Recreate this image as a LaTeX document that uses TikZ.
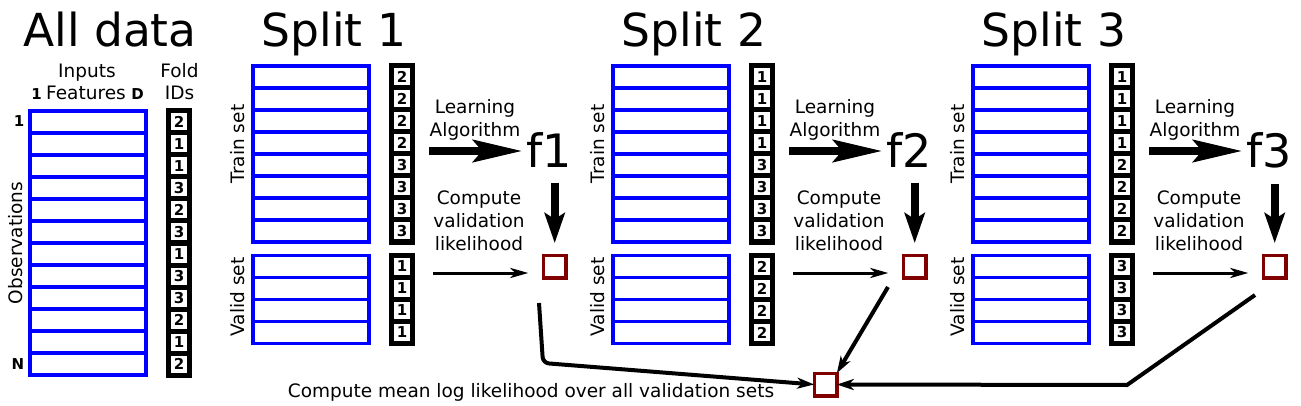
\documentclass[tikz,border=0pt]{standalone}
\usepackage{fontspec}
\setmainfont{DejaVu Sans}
\usetikzlibrary{arrows.meta}
\definecolor{sqred}{HTML}{800000}
\newcommand{\fsz}[1]{\fontsize{#1}{#1}\selectfont}
\tikzset{
  brow/.style={draw=blue, line width=3.3pt, minimum width=116pt, minimum height=22pt, inner sep=0pt, outer sep=0pt},
  fcell/.style={draw=black, fill=white, line width=5pt, minimum width=21pt, minimum height=22pt, inner sep=0pt, outer sep=0pt, font=\bfseries\fsz{15}},
  title/.style={anchor=base, inner sep=0pt, font=\fsz{45.5}},
  lbl/.style={inner sep=0pt, font=\fsz{18.5}},
  blbl/.style={anchor=base, inner sep=0pt, font=\bfseries\fsz{15}},
  multi/.style={inner sep=0pt, align=center, font=\fontsize{18.5}{23}\selectfont},
  fnode/.style={anchor=base, inner sep=0pt, outer sep=0pt, font=\fsz{46}},
  redsq/.style={draw=sqred, line width=3.3pt, minimum width=22.7pt, minimum height=22.7pt, inner sep=0pt, outer sep=0pt},
  bigarrow/.style={line width=8pt, -{Stealth[length=49pt, width=22pt, inset=9pt]}},
  downarrow/.style={line width=8pt, -{Stealth[length=30pt, width=20pt, inset=6pt]}},
  thinarrow/.style={line width=3pt, -{Stealth[length=18pt, width=10pt, inset=5pt]}},
  link/.style={line width=4pt, -{Stealth[length=17pt, width=11pt, inset=5pt]}},
}
\begin{document}
\begin{tikzpicture}[x=1pt, y=-1pt]
\fill[white] (0,0) rectangle (1301,406);
\useasboundingbox (0,0) rectangle (1301,406);

% ---------------- All data ----------------
\node[title] (alltitle) at (110,47) {All data};
\node[lbl, anchor=base] (inputs) at (87,78) {Inputs};
\node[lbl, anchor=base] (features) at (86,100) {Features};
\node[blbl] (featone) at (36.5,100) {1};
\node[blbl] (featD) at (137.5,100) {D};
\node[lbl, anchor=base] (fold) at (179.5,78) {Fold};
\node[lbl, anchor=base] (ids) at (179.5,100) {IDs};
\node[blbl] (obsone) at (19,127) {1};
\node[blbl] (obsN) at (18,369) {N};
\node[lbl, rotate=90] (obs) at (16,243) {Observations};
\foreach \v [count=\k] in {2,1,1,3,2,3,1,3,3,2,1,2} {
  \node[brow] (ar\k) at (88,{122+22*(\k-1)}) {};
  \node[fcell] (af\k) at (179,{122+22*(\k-1)}) {\v};
}

% ---------------- Splits ----------------
\foreach \s/\tr/\va in {1/{2,2,2,2,3,3,3,3}/1, 2/{1,1,1,1,3,3,3,3}/2, 3/{1,1,1,1,2,2,2,2}/3} {
  \pgfmathsetmacro{\dx}{360*(\s-1)}
  \node[title] (st\s) at (334+\dx,47) {Split \s};
  \node[lbl, rotate=90] (trl\s) at (237.5+\dx,144) {Train set};
  \node[lbl, rotate=90] (val\s) at (237.5+\dx,297) {Valid set};
  \foreach \v [count=\k] in \tr {
    \node[brow] (s\s tr\k) at (311+\dx,{77+22*(\k-1)}) {};
    \node[fcell] (s\s tf\k) at (402+\dx,{77+22*(\k-1)}) {\v};
  }
  \foreach \k in {1,2,3,4} {
    \node[brow] (s\s vr\k) at (311+\dx,{266.5+22*(\k-1)}) {};
    \node[fcell] (s\s vf\k) at (402+\dx,{266.5+22*(\k-1)}) {\va};
  }
  \node[multi] (la\s) at (475+\dx,120) {Learning\\Algorithm};
  \node[multi] (cv\s) at (479+\dx,221) {Compute\\validation\\likelihood};
  \node[fnode] (f\s) at (549+\dx,168) {f\s};
  \node[redsq] (sq\s) at (554.7+\dx,266.5) {};
  \coordinate (from\s) at (429+\dx,151);
  \coordinate (vfrom\s) at (433+\dx,273);
  \draw[bigarrow, shorten >=4pt] (from\s) -- (from\s -| f\s.west);
  \draw[downarrow, shorten <=15pt, shorten >=12pt] (sq\s.north |- f\s.south) -- (sq\s.north);
  \draw[thinarrow, shorten >=15pt] (vfrom\s) -- (vfrom\s -| sq\s.west);
}

% ---------------- Mean ----------------
\node[redsq] (msq) at (825.5,384.5) {};
\node[lbl, anchor=base] (meantxt) at (531,397) {Compute mean log likelihood over all validation sets};
\coordinate (c1a) at (539,303);
\coordinate (c1b) at (543,363);
\coordinate (c2a) at (888,287);
\coordinate (c3a) at (1255,295);
\coordinate (c3b) at (1127,385);
\draw[link, rounded corners=6pt] (c1a) -- (c1b) -- (msq.west);
\draw[link] (c2a) -- (msq.north east);
\draw[link] (c3a) -- (c3b) -- (msq.east);
\end{tikzpicture}
\end{document}
